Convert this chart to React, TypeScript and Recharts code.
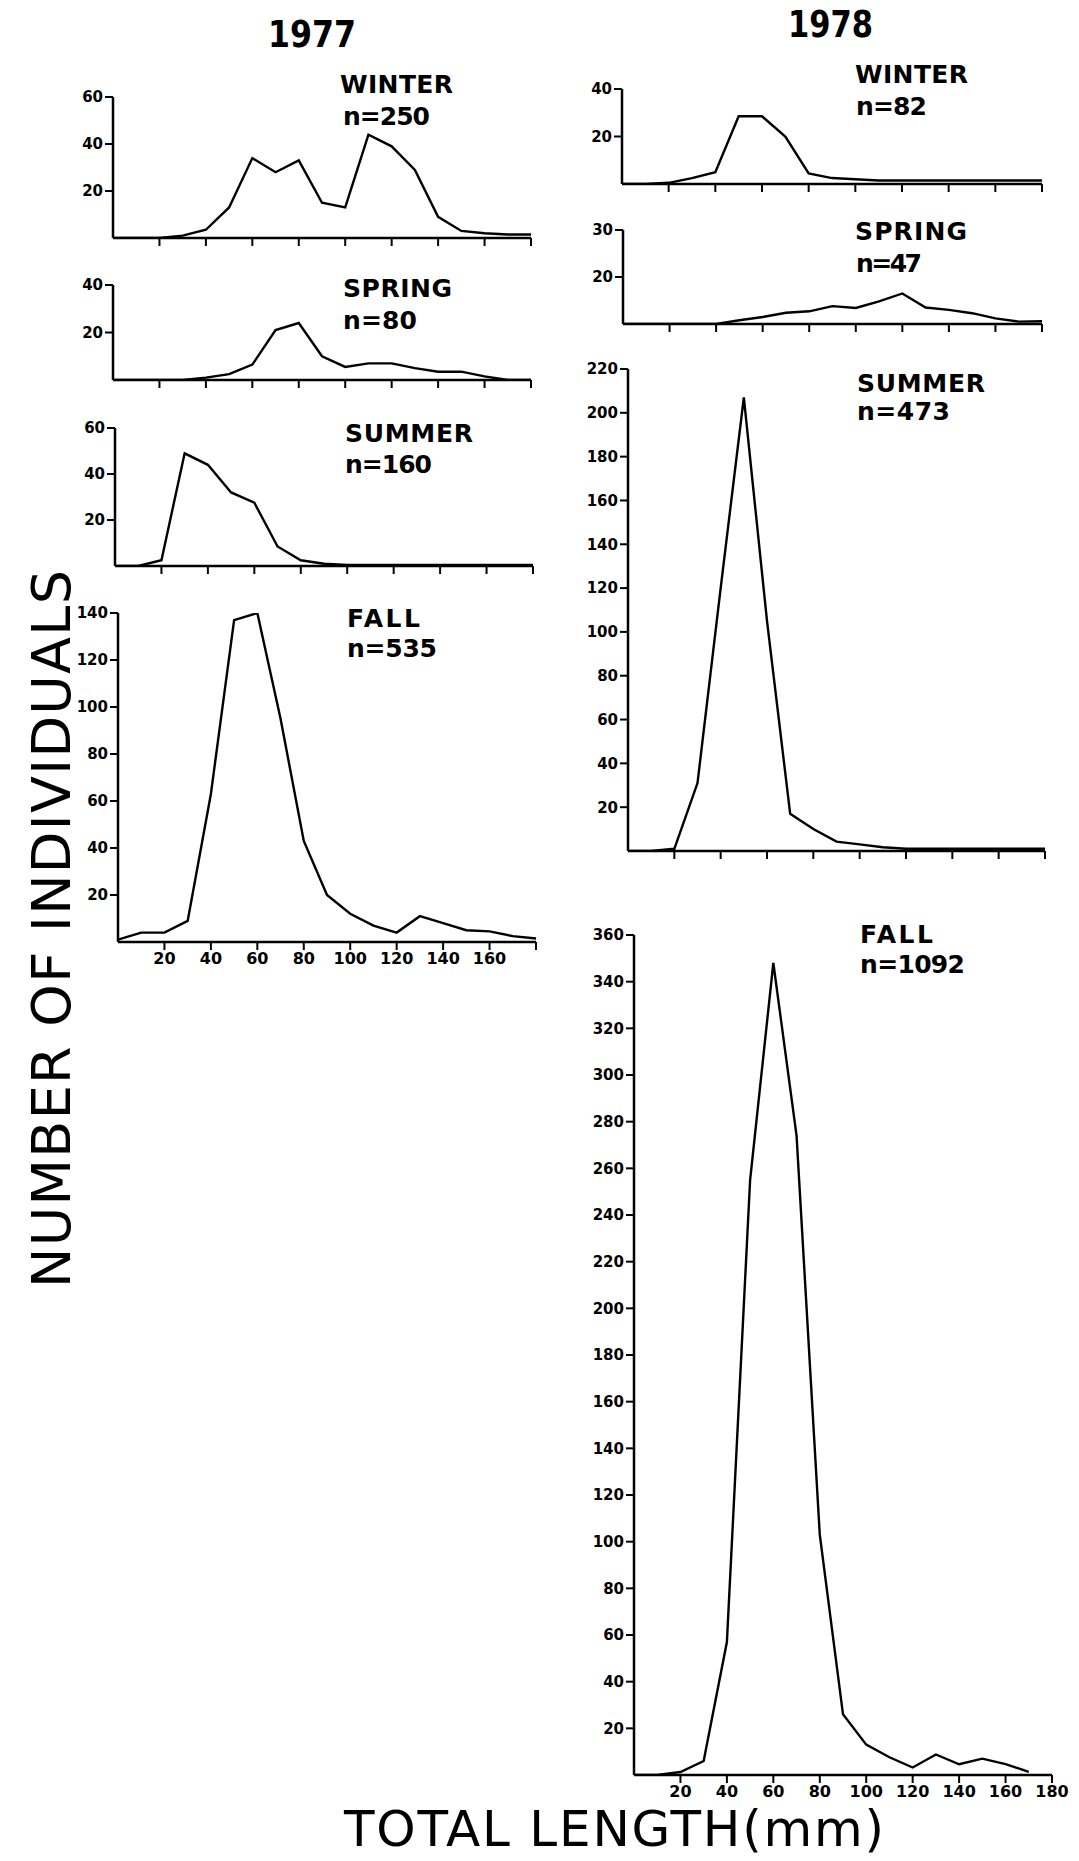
import React from 'react';
import { LineChart, Line, XAxis, YAxis } from 'recharts';

// length classes (mm), one point every 10 mm
const lengths = [0, 10, 20, 30, 40, 50, 60, 70, 80, 90, 100, 110, 120, 130, 140, 150, 160, 170, 180];
const xTicks = [20, 40, 60, 80, 100, 120, 140, 160, 180];

// number of individuals per length class
const winter1977 = [0, 0, 0, 1, 3.5, 13, 34, 28, 33, 15, 13, 44, 39, 29, 9, 3, 2, 1.5, 1.5];
const spring1977 = [0, 0, 0, 0, 1, 2.5, 6.5, 21, 24, 10, 5.5, 7, 7, 5, 3.5, 3.5, 1.5, 0, 0];
const summer1977 = [0, 0, 2.5, 49, 44, 32, 27.5, 8.5, 2.5, 1, 0.5, 0.5, 0.5, 0.5, 0.5, 0.5, 0.5, 0.5, 0.5];
const fall1977 = [1, 4, 4, 9, 63, 137, 140, 95, 43, 20, 12, 7, 4, 11, 8, 5, 4.5, 2.5, 1.5];

const winter1978 = [0, 0, 0.5, 2.5, 5, 28.5, 28.5, 20, 4.5, 2.5, 2, 1.5, 1.5, 1.5, 1.5, 1.5, 1.5, 1.5, 1.5];
const spring1978 = [10, 10, 10, 10, 10, 10.8, 11.5, 12.4, 12.7, 13.8, 13.4, 14.8, 16.5, 13.5, 13, 12.3, 11.2, 10.5, 10.6];
const summer1978 = [0, 0, 1, 31, 120, 207, 105, 17, 10, 4.3, 3, 1.7, 1, 1, 1, 1, 1, 1, 1];
const fall1978 = [0, 0, 1.3, 6, 57, 255, 348, 274, 103, 26, 13, 7.6, 3.2, 8.8, 4.6, 7, 4.7, 1.3, null];

const ticks60 = [20, 40, 60];
const ticks40 = [20, 40];
const ticks30 = [20, 30];
const ticks140 = [20, 40, 60, 80, 100, 120, 140];
const ticks220 = [20, 40, 60, 80, 100, 120, 140, 160, 180, 200, 220];
const ticks360 = [20, 40, 60, 80, 100, 120, 140, 160, 180, 200, 220, 240, 260, 280, 300, 320, 340, 360];

const FONT = '"DejaVu Sans", "Liberation Sans", sans-serif';

interface PanelProps {
  values: (number | null)[];
  yDomain: [number, number];
  yTicks: number[];
  left: number;
  right: number;
  top: number;
  bottom: number;
  maxXLabel?: number;
}

function Panel({ values, yDomain, yTicks, left, right, top, bottom, maxXLabel }: PanelProps) {
  const ml = 60;
  const mt = 12;
  const mr = 22;
  const xh = 36;
  const w = ml + (right - left) + mr;
  const h = mt + (bottom - top) + xh;
  const data = lengths.map((len, i) => ({ len, count: values[i] }));
  const xFormat = (v: number) => (maxXLabel !== undefined && v <= maxXLabel ? String(v) : '');

  return (
    <div style={{ position: 'absolute', left: left - ml, top: top - mt }}>
      <LineChart width={w} height={h} data={data} margin={{ top: mt, right: mr, left: 0, bottom: 0 }}>
        <XAxis
          type="number"
          dataKey="len"
          domain={[0, 180]}
          ticks={xTicks}
          interval={0}
          height={xh}
          tickSize={8}
          tickMargin={3}
          tickFormatter={xFormat}
          axisLine={{ stroke: '#000', strokeWidth: 2.5 }}
          tickLine={{ stroke: '#000', strokeWidth: 2 }}
          tick={{ fill: '#000', fontSize: 16, fontWeight: 700, fontFamily: FONT }}
        />
        <YAxis
          type="number"
          domain={yDomain}
          ticks={yTicks}
          interval={0}
          width={ml}
          allowDataOverflow
          tickSize={8}
          tickMargin={2}
          axisLine={{ stroke: '#000', strokeWidth: 2.5 }}
          tickLine={{ stroke: '#000', strokeWidth: 2 }}
          tick={{ fill: '#000', fontSize: 15, fontWeight: 700, fontFamily: FONT }}
        />
        <Line
          type="linear"
          dataKey="count"
          stroke="#000"
          strokeWidth={2.4}
          dot={false}
          isAnimationActive={false}
        />
      </LineChart>
    </div>
  );
}

// season captions: text, left x, baseline y, width
const captions: [string, number, number, number][] = [
  ['WINTER', 340, 93, 113], ['n=250', 343, 125, 87],
  ['SPRING', 343, 297, 109], ['n=80', 343, 329, 74],
  ['SUMMER', 345, 442, 128], ['n=160', 345, 473, 87],
  ['FALL', 347, 627, 73], ['n=535', 347, 657, 90],
  ['WINTER', 855, 83, 113], ['n=82', 856, 115, 71],
  ['SPRING', 855, 240, 112], ['n=47', 856, 272, 66],
  ['SUMMER', 857, 392, 128], ['n=473', 857, 420, 93],
  ['FALL', 860, 943, 73], ['n=1092', 860, 973, 105],
];

export default function App() {
  return (
    <div style={{ position: 'absolute', left: 0, top: 0, width: 1079, height: 1861, background: '#fff', overflow: 'hidden' }}>
      <Panel values={winter1977} yDomain={[0, 60]} yTicks={ticks60} left={113} right={531} top={97} bottom={238} />
      <Panel values={spring1977} yDomain={[0, 40]} yTicks={ticks40} left={113} right={531} top={285} bottom={380} />
      <Panel values={summer1977} yDomain={[0, 60]} yTicks={ticks60} left={115} right={533} top={428} bottom={566} />
      <Panel values={fall1977} yDomain={[0, 140]} yTicks={ticks140} left={118} right={536} top={613} bottom={942} maxXLabel={160} />

      <Panel values={winter1978} yDomain={[0, 40]} yTicks={ticks40} left={622} right={1042} top={89} bottom={184} />
      <Panel values={spring1978} yDomain={[10, 30]} yTicks={ticks30} left={623} right={1042} top={230} bottom={324} />
      <Panel values={summer1978} yDomain={[0, 220]} yTicks={ticks220} left={628} right={1045} top={369} bottom={851} />
      <Panel values={fall1978} yDomain={[0, 360]} yTicks={ticks360} left={634} right={1052} top={935} bottom={1775} maxXLabel={180} />

      <svg width={1079} height={1861} style={{ position: 'absolute', left: 0, top: 0, pointerEvents: 'none' }}>
        <g fontFamily={FONT} fill="#000">
          <text x={268} y={47} fontSize={38} fontWeight={700} textLength={88} lengthAdjust="spacingAndGlyphs">1977</text>
          <text x={788} y={37} fontSize={38} fontWeight={700} textLength={85} lengthAdjust="spacingAndGlyphs">1978</text>
          {captions.map(([t, x, y, w], i) => (
            <text key={i} x={x} y={y} fontSize={25} fontWeight={700} textLength={w}>{t}</text>
          ))}
          <text x={344} y={1846} fontSize={50} textLength={540}>TOTAL LENGTH(mm)</text>
          <text x={0} y={0} fontSize={54} textLength={718} transform="translate(70,1288) rotate(-90)">NUMBER OF INDIVIDUALS</text>
        </g>
      </svg>
    </div>
  );
}
